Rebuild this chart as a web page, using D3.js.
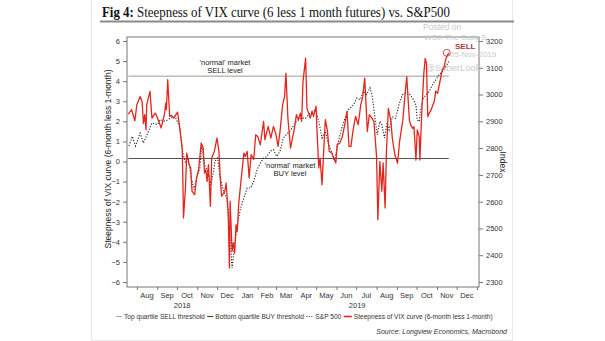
<!DOCTYPE html>
<html lang="en">
<head>
<meta charset="utf-8"/>
<title>Fig 4: Steepness of VIX curve vs. S&P500</title>
<style>
  body { margin: 0; background: #fff; }
  svg text { font-family: "Liberation Sans", Arial, sans-serif; fill: #333; }
</style>
</head>
<body>
<svg id="chart" width="605" height="341"></svg>
<script src="https://d3js.org/d3.v7.min.js"></script>
<script>
// VIX curve steepness (6-month less 1-month), left axis
const vixDates = [
  "2018-07-19","2018-07-24","2018-07-29","2018-08-01","2018-08-06","2018-08-09","2018-08-11","2018-08-13","2018-08-15","2018-08-16",
  "2018-08-21","2018-08-24","2018-08-29","2018-09-01","2018-09-07","2018-09-12","2018-09-14","2018-09-15","2018-09-17","2018-09-20",
  "2018-09-23","2018-09-26","2018-10-02","2018-10-05","2018-10-09","2018-10-10","2018-10-11","2018-10-14","2018-10-16","2018-10-19",
  "2018-10-22","2018-10-24","2018-10-28","2018-10-31","2018-11-03","2018-11-07","2018-11-10","2018-11-12","2018-11-14","2018-11-16",
  "2018-11-18","2018-11-21","2018-11-23","2018-11-27","2018-12-01","2018-12-04","2018-12-06","2018-12-08","2018-12-13","2018-12-15",
  "2018-12-18","2018-12-20","2018-12-21","2018-12-24","2018-12-26","2018-12-28","2018-12-30","2019-01-01","2019-01-03","2019-01-07",
  "2019-01-11","2019-01-13","2019-01-16","2019-01-19","2019-01-22","2019-01-26","2019-01-29","2019-02-01","2019-02-05","2019-02-10",
  "2019-02-12","2019-02-17","2019-02-21","2019-02-25","2019-03-01","2019-03-04","2019-03-07","2019-03-11","2019-03-14","2019-03-16",
  "2019-03-19","2019-03-23","2019-03-25","2019-03-29","2019-04-01","2019-04-04","2019-04-07","2019-04-09","2019-04-11","2019-04-15",
  "2019-04-17","2019-04-22","2019-04-25","2019-04-27","2019-05-01","2019-05-02","2019-05-05","2019-05-07","2019-05-10","2019-05-13",
  "2019-05-15","2019-05-18","2019-05-21","2019-05-25","2019-05-31","2019-06-02","2019-06-06","2019-06-10","2019-06-15","2019-06-17",
  "2019-06-20","2019-06-23","2019-06-26","2019-06-30","2019-07-04","2019-07-08","2019-07-11","2019-07-14","2019-07-18","2019-07-21",
  "2019-07-25","2019-07-28","2019-08-01","2019-08-03","2019-08-06","2019-08-09","2019-08-11","2019-08-14","2019-08-16","2019-08-19",
  "2019-08-23","2019-08-25","2019-08-29","2019-09-02","2019-09-05","2019-09-10","2019-09-14","2019-09-16","2019-09-20","2019-09-22",
  "2019-09-25","2019-09-27","2019-09-30","2019-10-02","2019-10-05","2019-10-06","2019-10-09","2019-10-12","2019-10-14","2019-10-16",
  "2019-10-18","2019-10-20","2019-10-23","2019-10-25","2019-10-28","2019-10-30","2019-11-02","2019-11-04","2019-11-07","2019-11-09",
  "2019-11-12","2019-11-14","2019-11-17","2019-11-19"
];
const vixValues = [
  2.36, 2.58, 2.03, 2.83, 3.24, 2.99, 1.9, 2.33, 1.58, 2.83,
  3.49, 2.16, 2.41, 2.2, 1.67, 2.33, 2.9, 2.58, 4.07, 2.25,
  2.3, 2.16, 2.46, 1.75, 0.67, -0.82, -2.81, -1.32, 0.42, -0.07,
  -0.32, -1.48, -1.65, -0.82, -0.41, 0.92, 0.67, -0.57, -0.41, -0.99,
  -0.16, -2.23, 0.17, 0.5, 1.17, 0.5, -0.82, -1.73, -1.48, -1.07,
  -2.48, -5.3, -1.98, -4.47, -4.05, -4.55, -3.14, -3.47, -2.15, -0.82,
  0.42, 0.25, 0.5, -0.82, 0.34, 0.1, 1.33, 1.25, 0.83, 2.0,
  1.08, 1.75, 1.16, 1.75, 1.33, 0.75, 1.5, 2.83, 3.24, 4.4,
  2.16, 0.67, 1.0, 1.66, 2.33, 2.08, 2.41, 2.0, 3.99, 5.15,
  2.66, 2.16, 2.5, 2.25, 2.75, 1.75, -0.32, 0.17, -1.15, 0.84,
  2.08, 1.58, 0.5, 0.42, -0.07, 0.84, 0.92, 1.25, 2.08, 2.5,
  0.75, 0.75, 1.5, 2.25, 1.83, 2.83, 3.24, 4.15, 1.5, 2.33,
  2.16, 2.0, 0.26, -2.9, 0.0, -1.48, -0.07, -2.31, 0.42, 2.65,
  1.98, 1.15, 0.32, -0.09, 0.98, 2.06, 3.56, 4.22, 2.06, 1.82,
  1.65, 1.73, 0.07, 1.57, 1.23, 0.07, 2.56, 4.39, 5.13, 4.89,
  2.23, 2.4, 2.56, 2.75, 3.0, 3.5, 3.4, 3.73, 4.22, 4.55,
  4.72, 5.05, 5.3, 5.41
];

// S&P 500, right axis
const spxDates = [
  "2018-07-20","2018-07-25","2018-07-30","2018-08-06","2018-08-11","2018-08-16","2018-08-24","2018-09-01","2018-09-06","2018-09-13",
  "2018-09-21","2018-09-28","2018-10-05","2018-10-10","2018-10-14","2018-10-18","2018-10-23","2018-10-27","2018-10-31","2018-11-05",
  "2018-11-08","2018-11-12","2018-11-17","2018-11-22","2018-11-26","2018-11-28","2018-12-02","2018-12-06","2018-12-11","2018-12-16",
  "2018-12-21","2018-12-24","2018-12-28","2019-01-01","2019-01-06","2019-01-11","2019-01-16","2019-01-21","2019-01-26","2019-01-31",
  "2019-02-05","2019-02-10","2019-02-15","2019-02-20","2019-02-25","2019-03-02","2019-03-07","2019-03-12","2019-03-17","2019-03-22",
  "2019-03-27","2019-04-01","2019-04-08","2019-04-15","2019-04-22","2019-04-30","2019-05-05","2019-05-10","2019-05-15","2019-05-20",
  "2019-05-25","2019-05-29","2019-06-04","2019-06-09","2019-06-14","2019-06-19","2019-06-27","2019-07-02","2019-07-07","2019-07-12",
  "2019-07-17","2019-07-22","2019-07-25","2019-07-29","2019-08-02","2019-08-06","2019-08-09","2019-08-13","2019-08-17","2019-08-20",
  "2019-08-25","2019-08-30","2019-09-04","2019-09-09","2019-09-14","2019-09-19","2019-09-25","2019-09-30","2019-10-02","2019-10-05",
  "2019-10-07","2019-10-11","2019-10-15","2019-10-20","2019-10-25","2019-10-30","2019-11-04","2019-11-09","2019-11-14","2019-11-19"
];
const spxValues = [
  2808, 2844, 2808, 2856, 2819, 2847, 2894, 2888, 2906, 2900,
  2912, 2918, 2881, 2782, 2744, 2763, 2688, 2645, 2688, 2726,
  2813, 2738, 2713, 2663, 2719, 2751, 2763, 2688, 2639, 2614,
  2464, 2352, 2439, 2514, 2576, 2614, 2651, 2651, 2676, 2719,
  2744, 2763, 2769, 2788, 2794, 2769, 2788, 2838, 2851, 2863,
  2882, 2900, 2912, 2912, 2931, 2943, 2900, 2838, 2863, 2813,
  2782, 2751, 2826, 2875, 2912, 2943, 2962, 2987, 2981, 3012,
  3000, 3025, 3000, 2925, 2850, 2900, 2888, 2838, 2894, 2868,
  2917, 2911, 2961, 2998, 3007, 3005, 2986, 2961, 2905, 2899,
  2942, 2986, 2998, 3011, 3036, 3054, 3073, 3085, 3104, 3123
];

const leftTicks = [-6, -5, -4, -3, -2, -1, 0, 1, 2, 3, 4, 5, 6];
const rightTicks = [2300, 2400, 2500, 2600, 2700, 2800, 2900, 3000, 3100, 3200];
const sellLevel = 4.25;
const buyLevel = 0.15;
const legendLabels = ["Top quartile SELL threshold", "Bottom quartile BUY threshold", "S&P 500", "Steepness of VIX curve (6-month less 1-month)"];

const parse = d3.timeParse("%Y-%m-%d");
const vix = vixDates.map((d, i) => ({date: parse(d), value: vixValues[i]}));
const spx = spxDates.map((d, i) => ({date: parse(d), value: spxValues[i]}));

const red = "#e3261d";
const box = {left: 127, right: 479, top: 37, bottom: 287};

const svg = d3.select("#chart");

// faint page frame
svg.append("rect").attr("x", 91.5).attr("y", -1).attr("width", 421).attr("height", 341.5)
  .attr("fill", "none").attr("stroke", "#e8e8e8");

// title
const title = svg.append("text").attr("x", 102).attr("y", 17)
  .style("font-family", "'Liberation Serif', 'Times New Roman', serif")
  .style("font-size", "14px").style("fill", "#111");
title.append("tspan").style("font-weight", "bold").text("Fig 4:");
title.append("tspan").text(" Steepness of VIX curve (6 less 1 month futures) vs. S&P500");
title.attr("textLength", 348).attr("lengthAdjust", "spacingAndGlyphs");
svg.append("line").attr("x1", 100).attr("x2", 514).attr("y1", 21.5).attr("y2", 21.5)
  .attr("stroke", "#8a8a8a").attr("stroke-width", 2);

const x = d3.scaleTime()
  .domain([parse("2018-07-17"), parse("2020-01-04")])
  .range([box.left, box.right]);
const yL = d3.scaleLinear().domain([-6, 6]).range([282, 41]);
const yR = d3.scaleLinear().domain([2300, 3200]).range([282, 41]);

// plot frame
svg.append("rect").attr("x", box.left).attr("y", box.top)
  .attr("width", box.right - box.left).attr("height", box.bottom - box.top)
  .attr("fill", "none").attr("stroke", "#777").attr("stroke-width", 1);

// left axis
const gl = svg.append("g").attr("transform", `translate(${box.left},0)`)
  .call(d3.axisLeft(yL).tickValues(leftTicks).tickSize(4).tickPadding(3));
// right axis
const gr = svg.append("g").attr("transform", `translate(${box.right},0)`)
  .call(d3.axisRight(yR).tickValues(rightTicks).tickFormat(d3.format("d")).tickSize(4).tickPadding(3));
// bottom axis (month ticks)
const monthStarts = d3.timeMonth.range(d3.timeMonth.ceil(x.domain()[0]), x.domain()[1]);
const gb = svg.append("g").attr("transform", `translate(0,${box.bottom})`)
  .call(d3.axisBottom(x).tickValues(monthStarts).tickSize(3).tickFormat(""));
[gl, gr, gb].forEach(g => {
  g.select(".domain").remove();
  g.selectAll("line").attr("stroke", "#777");
  g.selectAll("text").style("font-size", "7.5px").style("fill", "#333")
    .style("font-family", "'Liberation Sans', Arial, sans-serif");
});

// month labels at mid-month
const months = d3.timeMonth.range(d3.timeMonth.floor(x.domain()[0]), x.domain()[1])
  .map(m => ({m, mid: new Date(+m + (+d3.timeMonth.offset(m, 1) - m) / 2)}))
  .filter(o => o.mid >= x.domain()[0] && o.mid <= x.domain()[1]);
svg.append("g").selectAll("text").data(months).join("text")
  .attr("x", o => x(o.mid)).attr("y", 298)
  .attr("text-anchor", "middle").style("font-size", "7.5px")
  .text(o => d3.timeFormat("%b")(o.m));
// year labels centred on visible part of year
const years = [2018, 2019].map(yr => {
  const a = d3.max([x.domain()[0], new Date(yr, 0, 1)]);
  const b = d3.min([x.domain()[1], new Date(yr + 1, 0, 1)]);
  return {yr, cx: (x(a) + x(b)) / 2};
});
svg.append("g").selectAll("text").data(years).join("text")
  .attr("x", d => d.cx).attr("y", 308)
  .attr("text-anchor", "middle").style("font-size", "7.5px")
  .text(d => d.yr);

// axis titles
svg.append("text").attr("transform", "translate(111,159) rotate(-90)")
  .attr("text-anchor", "middle").style("font-size", "8.5px").style("fill", "#222")
  .text("Steepness of VIX curve (6-month less 1-month)");
svg.append("text").attr("transform", "translate(500,162) rotate(90)")
  .attr("text-anchor", "middle").style("font-size", "8.5px").style("fill", "#222")
  .text("Index");

// threshold lines over data span
const x0 = x(vix[0].date), x1 = x(vix[vix.length - 1].date);
svg.append("line").attr("x1", x0).attr("x2", x1).attr("y1", yL(sellLevel)).attr("y2", yL(sellLevel))
  .attr("stroke", "#9a9a9a").attr("stroke-width", 1);
svg.append("line").attr("x1", x0).attr("x2", x1).attr("y1", yL(buyLevel)).attr("y2", yL(buyLevel))
  .attr("stroke", "#555").attr("stroke-width", 1.2);

// annotations
const note = (cx, y, lines) => lines.forEach((t, i) =>
  svg.append("text").attr("x", cx).attr("y", y + i * 8).attr("text-anchor", "middle")
    .style("font-size", "7.5px").style("fill", "#222").text(t));
note(225, 64.5, ["'normal' market", "SELL level"]);
note(290, 167.5, ["'normal' market", "BUY level"]);

// watermark
const wm = (xx, yy, t, s) => svg.append("text").attr("x", xx).attr("y", yy)
  .style("font-size", s + "px").style("fill", "#cacaca").text(t);
wm(423, 30, "Posted on", 8.5);
wm(424, 40, "WSJ: The Daily S", 8);
wm(450, 57, "05-Nov-2019", 8);
wm(425, 71, "@SoberLook", 9.5);

// series
const spxLine = d3.line().x(d => x(d.date)).y(d => yR(d.value));
svg.append("path").datum(spx).attr("d", spxLine)
  .attr("fill", "none").attr("stroke", "#222").attr("stroke-width", 1.1)
  .attr("stroke-dasharray", "1.2,1.6");
const vixLine = d3.line().x(d => x(d.date)).y(d => yL(d.value));
svg.append("path").datum(vix).attr("d", vixLine)
  .attr("fill", "none").attr("stroke", red).attr("stroke-width", 1.3)
  .attr("stroke-linejoin", "round");

const last = vix[vix.length - 1];
svg.append("circle").attr("cx", x(last.date) - 2).attr("cy", yL(last.value))
  .attr("r", 3.5).attr("fill", "none").attr("stroke", "#c05050").attr("stroke-width", 1);
svg.append("text").attr("x", 455).attr("y", 48.5).style("font-size", "8px")
  .style("font-weight", "bold").style("fill", "#a83a3a").text("SELL");

// legend, items chained left to right
const lg = svg.append("g").attr("transform", "translate(0,319)");
const items = [
  {w: 6, stroke: "#aaa", dash: null, sw: 1},
  {w: 6, stroke: "#444", dash: null, sw: 1.2},
  {w: 7, stroke: "#333", dash: "1,1.5", sw: 1.1},
  {w: 8, stroke: red, dash: null, sw: 1.6}
];
let cx = 116;
items.forEach((it, i) => {
  lg.append("line").attr("x1", cx).attr("x2", cx + it.w).attr("y1", -2.5).attr("y2", -2.5)
    .attr("stroke", it.stroke).attr("stroke-width", it.sw).attr("stroke-dasharray", it.dash);
  const t = lg.append("text").attr("x", cx + it.w + 2).attr("y", 0)
    .style("font-size", "6.6px").style("fill", "#333").text(legendLabels[i]);
  cx = cx + it.w + 2 + t.node().getComputedTextLength() + 2.5;
});

svg.append("text").attr("x", 507).attr("y", 334).attr("text-anchor", "end")
  .style("font-size", "7px").style("font-style", "italic").style("fill", "#333")
  .text("Source: Longview Economics, Macrobond");
</script>
</body>
</html>
